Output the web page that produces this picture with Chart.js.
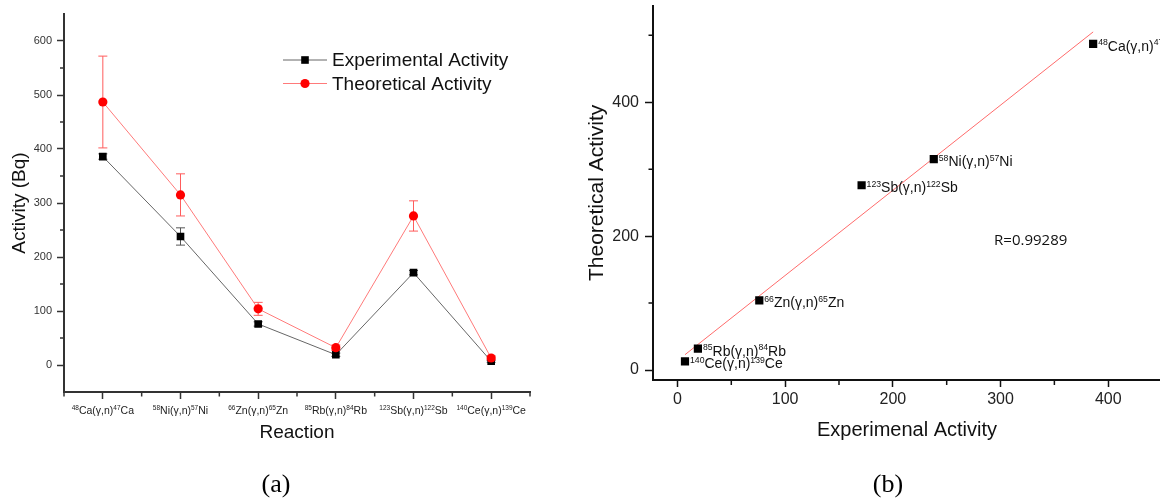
<!DOCTYPE html>
<html>
<head>
<meta charset="utf-8">
<script src="https://cdn.jsdelivr.net/npm/chart.js@4.4.1/dist/chart.umd.min.js"></script>
<style>
  html, body { margin: 0; padding: 0; background: #fff; overflow: hidden; width: 1160px; height: 500px; }
  .panel { position: absolute; top: 0; height: 500px; }
  #wrapA { left: 0; width: 560px; }
  #wrapB { left: 570px; width: 600px; }
  .cap { position: absolute; top: 469px; line-height: 30px; font-family: 'Liberation Serif', 'Times New Roman', serif; font-size: 26px; color: #000; transform: translateX(-50%); }
</style>
</head>
<body>
<div class="panel" id="wrapA"><canvas id="chartA" width="560" height="500"></canvas></div>
<div class="panel" id="wrapB"><canvas id="chartB" width="600" height="500"></canvas></div>
<div class="cap" style="left:276px">(a)</div>
<div class="cap" style="left:888px">(b)</div>
<script>
// reactions (target mass, element, product mass)
const massIn = [48, 58, 66, 85, 123, 140];
const elements = ['Ca', 'Ni', 'Zn', 'Rb', 'Sb', 'Ce'];
const massOut = [47, 57, 65, 84, 122, 139];

// activities in Bq
const expActivity = [386, 238, 76, 19, 171, 7];
const expError = [5, 16, 4, 3, 4, 2];
const theoActivity = [487, 315, 104, 32, 276, 13];
const theoError = [85, 39, 12, 5, 28, 4];

// linear fit (end points)
const fitX = [7, 386];
const fitY = [23, 505];
const rText = 'R=0.99289';

// tick values
const yTicksA = [0, 100, 200, 300, 400, 500, 600];
const yMinorA = [50, 150, 250, 350, 450, 550];
const xTicksB = [0, 100, 200, 300, 400];
const xMinorB = [50, 150, 250, 350, 450];
const yTicksB = [0, 200, 400];
const yMinorB = [100, 300, 500];

const FONT = '"Liberation Sans", Arial, sans-serif';
Chart.defaults.font.family = FONT;
Chart.defaults.color = '#222';

// reaction label as rich text parts
const reactions = massIn.map((m, i) => [
  { t: String(m), sup: true },
  { t: elements[i] + '(γ,n)' },
  { t: String(massOut[i]), sup: true },
  { t: elements[i] },
]);

function drawRich(ctx, parts, x, y, size, align) {
  const supSize = size * 0.62;
  const widths = parts.map((p) => {
    ctx.font = (p.sup ? supSize : size) + 'px ' + FONT;
    return ctx.measureText(p.t).width;
  });
  const total = widths.reduce((a, b) => a + b, 0);
  let cx = align === 'center' ? x - total / 2 : x;
  const base = y + size * 0.36;
  ctx.textAlign = 'left';
  ctx.textBaseline = 'alphabetic';
  parts.forEach((p, i) => {
    ctx.font = (p.sup ? supSize : size) + 'px ' + FONT;
    ctx.fillText(p.t, cx, p.sup ? base - size * 0.4 : base);
    cx += widths[i];
  });
}

// short minor ticks that Chart.js doesn't draw itself
function minorTicks(ctx, scale, pixels, len, color) {
  ctx.save();
  ctx.strokeStyle = color;
  ctx.lineWidth = 1.5;
  ctx.beginPath();
  pixels.forEach((p) => {
    if (scale.isHorizontal()) {
      ctx.moveTo(p, scale.top);
      ctx.lineTo(p, scale.top + len);
    } else {
      ctx.moveTo(scale.right, p);
      ctx.lineTo(scale.right - len, p);
    }
  });
  ctx.stroke();
  ctx.restore();
}

const setTicks = (values) => (s) => { s.ticks = values.map((v) => ({ value: v })); };
const fitWidth = (w) => (s) => { s.width = w; s.paddingTop = 0; s.paddingBottom = 0; };
const fitHeight = (h) => (s) => { s.height = h; s.paddingLeft = 0; s.paddingRight = 0; };

// ---------- panel (a) ----------
const errorBars = {
  id: 'errorBars',
  beforeDatasetsDraw(chart) {
    const { ctx, scales: { x, y } } = chart;
    chart.data.datasets.forEach((ds) => {
      ctx.save();
      ctx.strokeStyle = ds.errColor;
      ctx.lineWidth = 1;
      ds.data.forEach((v, i) => {
        const px = x.getPixelForValue(i);
        const top = y.getPixelForValue(v + ds.errors[i]);
        const bot = y.getPixelForValue(v - ds.errors[i]);
        ctx.beginPath();
        ctx.moveTo(px, top); ctx.lineTo(px, bot);
        ctx.moveTo(px - 4.5, top); ctx.lineTo(px + 4.5, top);
        ctx.moveTo(px - 4.5, bot); ctx.lineTo(px + 4.5, bot);
        ctx.stroke();
      });
      ctx.restore();
    });
  },
};

const panelA = {
  id: 'panelA',
  afterDraw(chart) {
    const { ctx, scales: { x, y } } = chart;
    // minor ticks
    const step = x.getPixelForValue(1) - x.getPixelForValue(0);
    const xs = [];
    for (let k = 0; k <= reactions.length; k++) xs.push(x.getPixelForValue(0) + (k - 0.5) * step);
    minorTicks(ctx, x, xs, 4.5, '#333');
    minorTicks(ctx, y, yMinorA.map((v) => y.getPixelForValue(v)), 4, '#333');

    // category labels with superscripts
    ctx.save();
    ctx.fillStyle = '#222';
    reactions.forEach((parts, i) => drawRich(ctx, parts, x.getPixelForValue(i), 410, 10.5, 'center'));
    ctx.restore();

    // legend
    const order = [1, 0];
    order.forEach((di, row) => {
      const ds = chart.data.datasets[di];
      const ly = 60 + row * 23.5;
      ctx.save();
      ctx.strokeStyle = ds.borderColor;
      ctx.lineWidth = 1;
      ctx.beginPath();
      ctx.moveTo(283, ly); ctx.lineTo(327, ly);
      ctx.stroke();
      ctx.fillStyle = ds.pointBackgroundColor;
      if (ds.pointStyle === 'rect') {
        ctx.fillRect(305 - 3.8, ly - 3.8, 7.6, 7.6);
      } else {
        ctx.beginPath();
        ctx.arc(305, ly, 4.6, 0, Math.PI * 2);
        ctx.fill();
      }
      ctx.fillStyle = '#111';
      ctx.font = '19px ' + FONT;
      ctx.textAlign = 'left';
      ctx.textBaseline = 'middle';
      ctx.fillText(ds.label, 332, ly + 1);
      ctx.restore();
    });
  },
};

new Chart(document.getElementById('chartA'), {
  type: 'line',
  plugins: [errorBars, panelA],
  data: {
    labels: elements,
    datasets: [
      {
        label: 'Theoretical Activity',
        data: theoActivity,
        errors: theoError,
        errColor: '#ff5c5c',
        borderColor: '#ff7a7a',
        borderWidth: 1,
        pointStyle: 'circle',
        pointRadius: 4.6,
        pointBackgroundColor: '#ff0000',
        pointBorderWidth: 0,
        order: 1,
      },
      {
        label: 'Experimental Activity',
        data: expActivity,
        errors: expError,
        errColor: '#555',
        borderColor: '#666',
        borderWidth: 1,
        pointStyle: 'rect',
        pointRadius: 5.4,
        pointBackgroundColor: '#000',
        pointBorderWidth: 0,
        order: 2,
      },
    ],
  },
  options: {
    responsive: false,
    animation: false,
    layout: { padding: { left: 0, top: 14, right: 30, bottom: 48 } },
    plugins: { legend: { display: false }, tooltip: { enabled: false } },
    scales: {
      x: {
        type: 'category',
        offset: true,
        border: { color: '#333', width: 2 },
        grid: { drawOnChartArea: false, offset: false, tickLength: 7, color: '#333', tickWidth: 1.5 },
        ticks: { callback: () => '', autoSkip: false, maxRotation: 0 },
        title: { display: true, text: 'Reaction', font: { size: 19 }, color: '#111', padding: { top: 0, bottom: 8 } },
        afterFit: fitHeight(60),
      },
      y: {
        min: -50,
        max: 650,
        border: { color: '#333', width: 2 },
        grid: { drawOnChartArea: false, tickLength: 7, color: '#333', tickWidth: 1.5 },
        ticks: { padding: 5, font: { size: 11 }, color: '#333' },
        afterBuildTicks: setTicks(yTicksA),
        title: { display: true, text: 'Activity (Bq)', font: { size: 19 }, color: '#111', padding: { top: 8 } },
        afterFit: fitWidth(64),
      },
    },
  },
});

// ---------- panel (b) ----------
const panelB = {
  id: 'panelB',
  afterDraw(chart) {
    const { ctx, scales: { x, y } } = chart;
    minorTicks(ctx, x, xMinorB.map((v) => x.getPixelForValue(v)), 5, '#111');
    minorTicks(ctx, y, yMinorB.map((v) => y.getPixelForValue(v)), 4.5, '#111');

    ctx.save();
    ctx.fillStyle = '#111';
    expActivity.forEach((v, i) => {
      drawRich(ctx, reactions[i], x.getPixelForValue(v) + 5, y.getPixelForValue(theoActivity[i]) + 2, 14, 'left');
    });
    ctx.font = '15px "Open Sans", ' + FONT;
    ctx.textAlign = 'center';
    ctx.textBaseline = 'middle';
    ctx.fillText(rText, x.getPixelForValue(328), y.getPixelForValue(193));
    ctx.restore();
  },
};

new Chart(document.getElementById('chartB'), {
  type: 'scatter',
  plugins: [panelB],
  data: {
    datasets: [
      {
        label: 'Activity',
        data: expActivity.map((v, i) => ({ x: v, y: theoActivity[i] })),
        pointStyle: 'rect',
        pointRadius: 5.8,
        pointBackgroundColor: '#000',
        pointBorderWidth: 0,
        showLine: false,
      },
      {
        type: 'line',
        label: 'Fit',
        data: fitX.map((v, i) => ({ x: v, y: fitY[i] })),
        borderColor: '#ff6b6b',
        borderWidth: 1,
        pointRadius: 0,
      },
    ],
  },
  options: {
    responsive: false,
    animation: false,
    layout: { padding: { left: 0, top: 3, right: 9, bottom: 50 } },
    plugins: { legend: { display: false }, tooltip: { enabled: false } },
    scales: {
      x: {
        type: 'linear',
        min: -22.7,
        max: 449,
        border: { color: '#111', width: 2 },
        grid: { drawOnChartArea: false, tickLength: 7, color: '#111', tickWidth: 1.5 },
        ticks: { font: { size: 16 }, color: '#222' },
        afterBuildTicks: setTicks(xTicksB),
        title: { display: true, text: 'Experimenal Activity', font: { size: 20 }, color: '#111', padding: { top: 0, bottom: 8 } },
        afterFit: fitHeight(70),
      },
      y: {
        min: -14.8,
        max: 544,
        border: { color: '#111', width: 2 },
        grid: { drawOnChartArea: false, tickLength: 8, color: '#111', tickWidth: 1.5 },
        ticks: { padding: 6, font: { size: 16 }, color: '#222' },
        afterBuildTicks: setTicks(yTicksB),
        title: { display: true, text: 'Theoretical Activity', font: { size: 21 }, color: '#111', padding: { top: 15 } },
        afterFit: fitWidth(83),
      },
    },
  },
});
</script>
</body>
</html>
